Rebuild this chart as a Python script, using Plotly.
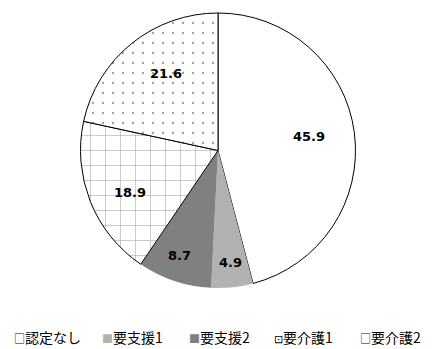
import math
import plotly.graph_objects as go

categories = ["認定なし", "要支援1", "要支援2", "要介護1", "要介護2"]
values = [45.9, 4.9, 8.7, 18.9, 21.6]
value_labels = ["45.9", "4.9", "8.7", "18.9", "21.6"]

colors = ["#ffffff", "#b2b2b2", "#808080", "#ffffff", "#ffffff"]
line_colors = ["#000000", "#b2b2b2", "#808080", "#000000", "#000000"]
line_widths = [1, 0, 0, 1, 1]
pattern_shapes = ["", "", "", "+", "."]
pattern_fg = ["#000000", "#000000", "#000000", "#555555", "#333333"]
pattern_size = [10, 10, 10, 15, 10]
pattern_solid = [0.3, 0.3, 0.3, 0.08, 0.04]
label_r = [0.80, 0.89, 0.88, 0.83, 0.81]

legend_symbols = ["□", "■", "■", "⊡", "□"]
legend_symbol_colors = ["#000000", "#b2b2b2", "#808080", "#000000", "#000000"]
legend_x_px = [4, 92, 179, 264, 350]

# the page body adds an 8px offset; figure sized to fill the 432x349 window
W, H = 424, 341
R = 137.5
cx_px = 210
mt = 5
ph = 2 * R
mb = H - mt - ph
dom_x = [(cx_px - R) / W, (cx_px + R) / W]

fig = go.Figure(go.Pie(
    labels=categories,
    values=values,
    sort=False,
    direction="clockwise",
    rotation=0,
    textinfo="none",
    hoverinfo="label+value",
    showlegend=False,
    domain=dict(x=dom_x, y=[0, 1]),
    marker=dict(
        colors=colors,
        line=dict(color=line_colors, width=line_widths),
        pattern=dict(shape=pattern_shapes, fgcolor=pattern_fg,
                     size=pattern_size, solidity=pattern_solid,
                     fillmode="overlay"),
    ),
))

total = sum(values)
cum = 0.0
annotations = []
for v, t, rf in zip(values, value_labels, label_r):
    ang = (cum + v / 2) / total * 2 * math.pi
    cum += v
    x = (cx_px + rf * R * math.sin(ang)) / W
    y = 0.5 + 0.5 * rf * math.cos(ang)
    annotations.append(dict(x=x, y=y, xref="paper", yref="paper", text=t,
                            showarrow=False,
                            font=dict(family="DejaVu Sans", size=13, color="#000000", weight="bold")))

legend_y = -(329 - (mt + ph)) / ph
for name, sym, sc, lx in zip(categories, legend_symbols, legend_symbol_colors, legend_x_px):
    annotations.append(dict(
        x=lx / W, y=legend_y, xref="paper", yref="paper", xanchor="left", yanchor="middle",
        showarrow=False,
        text=f'<span style="font-size:11px;color:{sc}">{sym}</span>{name}',
        font=dict(family="Noto Sans CJK JP", size=14, color="#000000"),
    ))

fig.update_layout(
    width=W, height=H,
    margin=dict(l=0, r=0, t=mt, b=mb, autoexpand=False),
    paper_bgcolor="#ffffff",
    plot_bgcolor="#ffffff",
    annotations=annotations,
    showlegend=False,
)

fig.write_html("out.html")
